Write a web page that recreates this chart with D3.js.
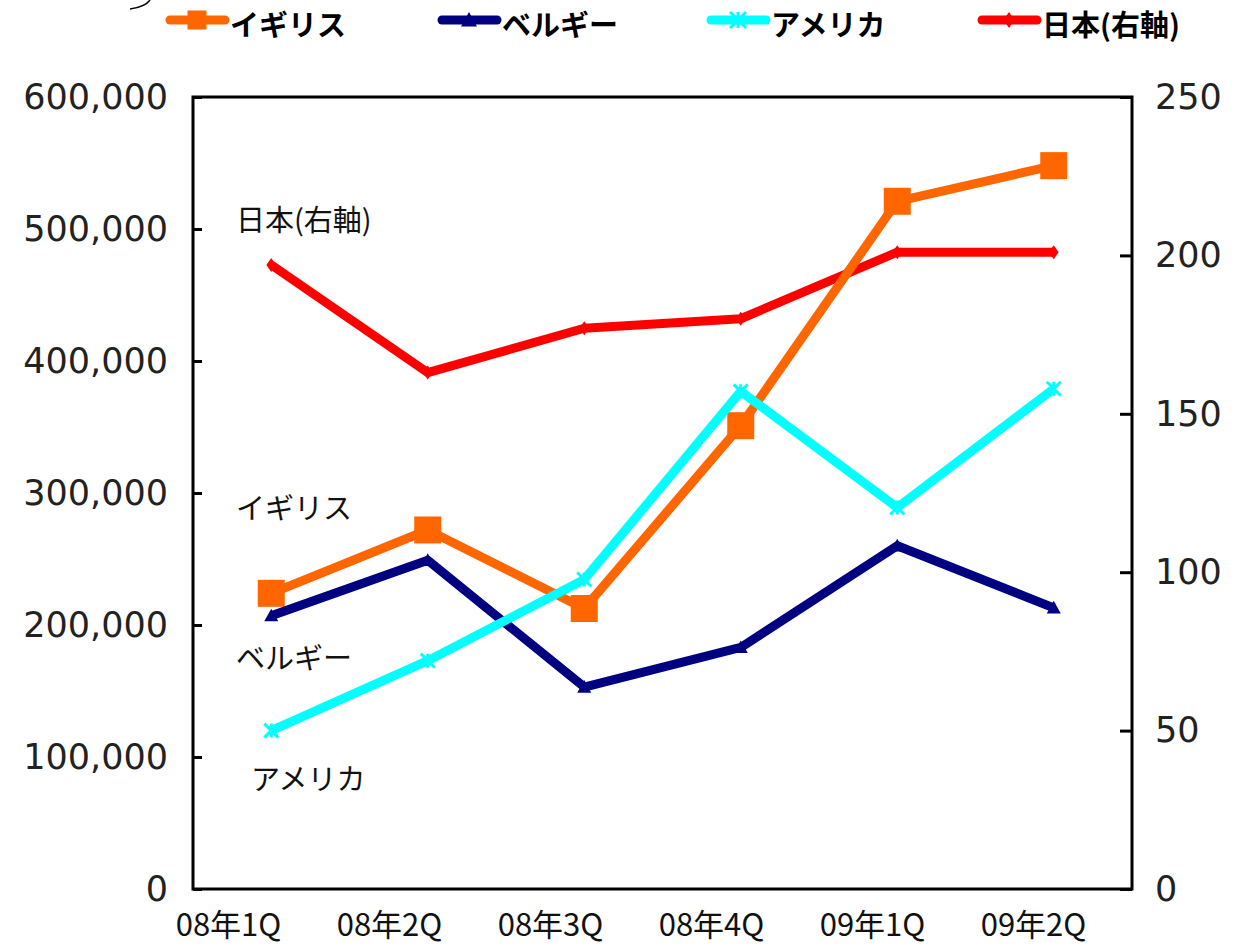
<!DOCTYPE html>
<html>
<head>
<meta charset="utf-8">
<script src="https://cdn.jsdelivr.net/npm/d3@7"></script>
<style>
  body { margin: 0; background: #fff; }
</style>
</head>
<body>
<div id="wrapper"></div>
<script>
// data
const quarters = ["08年1Q", "08年2Q", "08年3Q", "08年4Q", "09年1Q", "09年2Q"];
const uk = [224000, 272000, 212500, 351000, 521000, 548000];
const belgium = [207000, 249000, 153000, 183000, 260000, 213000];
const usa = [120000, 173000, 234500, 377000, 289000, 379000];
const japan = [197, 163, 177, 180, 201, 201]; // right axis
const leftTicks = [0, 100000, 200000, 300000, 400000, 500000, 600000];
const rightTicks = [0, 50, 100, 150, 200, 250];

const jpFont = "'Noto Sans CJK JP', 'Noto Sans', sans-serif";
const numFont = "'DejaVu Sans', sans-serif";

const dimensions = {
    width: 1241,
    height: 950,
    margin: { top: 97, right: 109, bottom: 61, left: 193 }
};
dimensions.boundedWidth = dimensions.width - dimensions.margin.left - dimensions.margin.right;
dimensions.boundedHeight = dimensions.height - dimensions.margin.top - dimensions.margin.bottom;

const svg = d3.select("#wrapper").append("svg")
    .attr("width", dimensions.width)
    .attr("height", dimensions.height);

const bounds = svg.append("g")
    .attr("transform", `translate(${dimensions.margin.left},${dimensions.margin.top})`);

const xScale = d3.scalePoint()
    .domain(quarters)
    .range([0, dimensions.boundedWidth])
    .padding(0.5);

// the category labels sit a little left of the points in the original
const labelScale = d3.scalePoint()
    .domain(quarters)
    .range([35, 840]);

const yLeft = d3.scaleLinear().domain([0, 600000]).range([dimensions.boundedHeight, 0]);
const yRight = d3.scaleLinear().domain([0, 250]).range([dimensions.boundedHeight, 0]);

// frame
bounds.append("rect")
    .attr("width", dimensions.boundedWidth)
    .attr("height", dimensions.boundedHeight)
    .attr("fill", "none")
    .attr("stroke", "#000")
    .attr("stroke-width", 3);

// left axis
const leftAxis = bounds.append("g")
    .call(d3.axisLeft(yLeft).tickValues(leftTicks).tickSizeInner(-9).tickSizeOuter(0)
        .tickPadding(25).tickFormat(d3.format(",")));
leftAxis.select(".domain").remove();
leftAxis.selectAll("line").attr("stroke-width", 3);
leftAxis.selectAll("text")
    .attr("font-family", numFont)
    .attr("font-size", 35)
    .attr("fill", "#222");

// right axis
const rightAxis = bounds.append("g")
    .attr("transform", `translate(${dimensions.boundedWidth},0)`)
    .call(d3.axisRight(yRight).tickValues(rightTicks).tickSizeInner(-12).tickSizeOuter(0)
        .tickPadding(23));
rightAxis.select(".domain").remove();
rightAxis.selectAll("line").attr("stroke-width", 3);
rightAxis.selectAll("text")
    .attr("font-family", numFont)
    .attr("font-size", 35)
    .attr("fill", "#222");

// category labels
const bottomAxis = bounds.append("g")
    .attr("transform", `translate(0,${dimensions.boundedHeight})`)
    .call(d3.axisBottom(labelScale).tickSize(0).tickPadding(25));
bottomAxis.select(".domain").remove();
bottomAxis.selectAll("text")
    .attr("font-family", jpFont)
    .attr("font-size", 31)
    .attr("fill", "#111");

const series = [
    { name: "イギリス", values: uk, scale: yLeft, color: "#FF6600", marker: "square", size: 27 },
    { name: "ベルギー", values: belgium, scale: yLeft, color: "#000080", marker: "triangle", size: 14 },
    { name: "アメリカ", values: usa, scale: yLeft, color: "#00FFFF", marker: "x", size: 14 },
    { name: "日本(右軸)", values: japan, scale: yRight, color: "#FF0000", marker: "diamond", size: 14 }
];
const drawOrder = [series[3], series[0], series[1], series[2]];

function drawMarker(g, s, x, y, size) {
    const h = size / 2;
    if (s.marker === "square") {
        g.append("rect").attr("x", x - h).attr("y", y - h)
            .attr("width", size).attr("height", size).attr("fill", s.color);
    } else if (s.marker === "triangle") {
        g.append("path")
            .attr("d", `M${x},${y - h}L${x + h},${y + h * 0.8}L${x - h},${y + h * 0.8}Z`)
            .attr("fill", s.color);
    } else if (s.marker === "diamond") {
        g.append("path")
            .attr("d", `M${x},${y - h}L${x + h * 0.7},${y}L${x},${y + h}L${x - h * 0.7},${y}Z`)
            .attr("fill", s.color);
    } else {
        g.append("path")
            .attr("d", `M${x - h},${y - h}L${x + h},${y + h}M${x - h},${y + h}L${x + h},${y - h}M${x},${y - h}L${x},${y + h}`)
            .attr("stroke", s.color).attr("stroke-width", 3).attr("fill", "none");
    }
}

drawOrder.forEach(s => {
    const g = bounds.append("g");
    const line = d3.line()
        .x((d, i) => xScale(quarters[i]))
        .y(d => s.scale(d));
    g.append("path")
        .datum(s.values)
        .attr("d", line)
        .attr("fill", "none")
        .attr("stroke", s.color)
        .attr("stroke-width", 9)
        .attr("stroke-linejoin", "round");
    s.values.forEach((v, i) => drawMarker(g, s, xScale(quarters[i]), s.scale(v), s.size));
});

// in-chart labels
const notes = [
    { text: "日本(右軸)", x: 236, y: 231 },
    { text: "イギリス", x: 236, y: 519 },
    { text: "ベルギー", x: 236, y: 669 },
    { text: "アメリカ", x: 251, y: 790 }
];
svg.append("g").selectAll("text")
    .data(notes)
    .join("text")
    .attr("x", d => d.x)
    .attr("y", d => d.y)
    .attr("font-family", jpFont)
    .attr("font-size", 29)
    .attr("fill", "#111")
    .text(d => d.text);

// legend
const legendX = [170, 442, 711, 982];
const legend = svg.append("g");
series.forEach((s, i) => {
    const lx = legendX[i];
    const g = legend.append("g");
    g.append("line")
        .attr("x1", lx).attr("x2", lx + 55)
        .attr("y1", 20).attr("y2", 20)
        .attr("stroke", s.color)
        .attr("stroke-width", 9)
        .attr("stroke-linecap", "round");
    drawMarker(g, s, lx + 27, 20, s.marker === "square" ? 19 : 16);
    g.append("text")
        .attr("x", lx + 60)
        .attr("y", 36)
        .attr("font-family", jpFont)
        .attr("font-weight", "bold")
        .attr("font-size", 29)
        .attr("fill", "#000")
        .text(s.name);
});

// bit of a rounded border peeking in at the top left
svg.append("path")
    .attr("d", "M130,9 Q145,7 150,0")
    .attr("fill", "none")
    .attr("stroke", "#000")
    .attr("stroke-width", 1.5);
</script>
</body>
</html>
